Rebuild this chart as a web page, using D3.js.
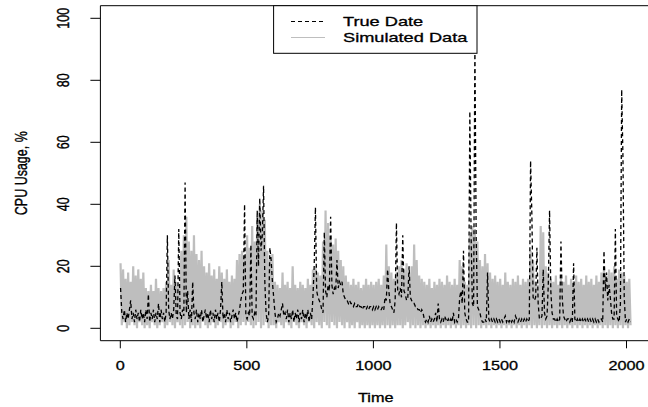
<!DOCTYPE html>
<html><head><meta charset="utf-8">
<script src="https://cdn.jsdelivr.net/npm/d3@7"></script>
<style>
body{margin:0;background:#fff}
svg{display:block}
text{font-family:"Liberation Sans",Arial,Helvetica,sans-serif;fill:#000;stroke:#000;stroke-width:0.3px}
</style>
</head><body>
<svg id="c" width="648" height="407"></svg>
<script>
const xTicks = [0, 500, 1000, 1500, 2000];
const yTicks = [0, 20, 40, 60, 80, 100];
const legendLabels = ["True Date", "Simulated Data"];
const xLabel = "Time";
const yLabel = "CPU Usage, %";
const timeStart = 1, timeStep = 5;

// True data (black dashed), one value every 5 time units
const trueData = [
 13,5,3,6,2,5,3,6,9,3,5,2,6,3,5,2,6,3,5,2,
 6,3,11,2,5,3,6,2,5,3,8,2,6,3,5,2,5,30,6,3,
 5,3,6,17,4,3,32,5,3,6,4,47,5,12,3,6,2,15,5,3,
 6,2,5,3,6,2,4,6,3,5,2,6,3,5,2,6,3,5,2,6,
 15,3,5,2,6,3,5,2,4,6,3,5,2,4,6,9,11,12,40,4,
 3,5,4,27,4,3,5,4,38,20,42,25,30,46,15,5,2,4,26,22,
 15,10,5,2,3,5,4,6,8,4,5,3,6,2,5,3,6,2,5,3,
 6,2,5,3,6,2,5,3,6,2,5,3,10,20,39,12,10,9,8,6,
 5,31,12,10,14,12,36,14,11,13,12,22,13,15,14,15,11,10,9,9,
 8,9,8,8,7,8,7,7,8,7,7,6,7,7,6,7,6,7,7,6,
 7,6,7,6,7,6,6,7,6,10,9,19,12,8,7,6,5,9,34,12,
 11,13,10,30,12,11,9,10,20,10,9,8,8,7,7,6,6,5,6,5,
 3,2,3,2,4,2,3,2,3,5,2,8,3,2,3,2,4,3,2,3,
 2,3,2,5,2,3,2,3,10,12,8,25,5,3,2,2,70,30,8,7,
 92,30,7,6,5,3,2,2,3,2,18,3,2,3,2,3,2,3,2,3,
 2,3,2,3,4,2,3,2,3,2,3,2,4,3,2,3,2,3,2,3,
 2,3,2,3,54,37,10,9,10,26,8,3,3,4,19,5,3,4,14,38,
 12,5,3,3,2,3,2,3,28,10,4,3,2,3,3,2,3,2,21,3,
 2,3,2,3,2,3,2,3,2,3,2,3,2,3,2,3,2,3,2,3,
 3,2,25,12,18,9,14,10,5,3,3,32,4,3,2,8,77,55,10,2,
 3,2,3,2
];

// Simulated data (gray), one value every 5 time units
const simData = [
 21,1,19,2,16,0,18,1,15,2,20,1,17,0,19,2,16,1,18,0,
 13,1,12,0,14,2,12,1,16,0,13,1,12,2,13,0,15,1,22,2,
 14,1,19,0,15,2,14,1,25,0,30,1,36,2,28,0,25,1,30,0,
 24,1,22,0,25,2,20,1,18,0,21,1,17,2,19,0,16,1,20,2,
 18,0,16,1,19,2,15,0,17,1,16,2,22,0,24,1,25,2,23,1,
 30,2,26,1,33,0,28,1,36,2,40,0,38,1,35,2,25,0,22,1,
 24,1,15,0,14,2,13,1,18,0,14,2,15,1,13,0,20,2,14,1,
 13,0,15,2,14,1,13,0,16,2,14,1,19,0,20,2,18,1,17,0,
 28,2,38,1,34,0,30,2,27,1,29,0,25,2,22,1,20,0,17,2,
 15,0,14,1,16,0,14,2,15,0,13,1,14,0,16,1,14,0,15,1,
 14,0,15,1,16,0,14,1,17,0,27,1,20,0,18,1,16,0,18,1,
 20,1,22,0,19,1,21,2,18,0,20,1,27,0,22,1,17,0,16,1,
 15,0,14,1,16,0,13,1,15,0,14,1,16,0,15,1,14,0,17,1,
 15,0,14,1,16,0,14,1,22,0,20,1,15,0,14,1,30,0,33,1,
 32,0,28,1,22,0,20,1,24,0,21,1,18,0,16,1,17,0,15,1,
 16,0,14,1,18,0,15,1,14,0,16,1,15,0,17,1,14,0,16,1,
 15,0,16,1,25,0,22,1,15,0,14,1,33,0,31,1,20,0,18,1,
 16,0,15,1,17,0,14,1,16,0,15,1,17,0,14,1,16,0,15,1,
 17,0,15,1,16,0,14,1,17,0,15,1,16,0,14,1,17,0,15,1,
 18,0,20,1,17,0,19,1,18,0,20,1,16,0,19,1,18,0,17,1,
 15,0,16,1
];

const svg = d3.select("#c");
const box = {left: 100.4, right: 651, top: 5.7, bottom: 340.7};
const x = d3.scaleLinear().domain([0, 2000]).range([120.3, 626.5]);
const y = d3.scaleLinear().domain([0, 100]).range([328.3, 18.3]);
const SX = 1.3, FS = 12.5;

svg.append("defs").append("clipPath").attr("id", "clip")
  .append("rect").attr("x", box.left).attr("y", box.top)
  .attr("width", box.right - box.left).attr("height", box.bottom - box.top);

const line = d3.line()
  .x((d, i) => x(timeStart + i * timeStep))
  .y(d => y(d));

const g = svg.append("g").attr("clip-path", "url(#clip)");
g.append("path").datum(simData).attr("d", line)
  .attr("fill", "none").attr("stroke", "#bebebe").attr("stroke-width", 2.2)
  .attr("stroke-linejoin", "miter").attr("stroke-miterlimit", 2);
g.append("path").datum(trueData).attr("d", line)
  .attr("fill", "none").attr("stroke", "#000").attr("stroke-width", 1.3)
  .attr("stroke-dasharray", "4,3");

// box
svg.append("path")
  .attr("d", `M${box.right},${box.top}H${box.left}V${box.bottom}H${box.right}`)
  .attr("fill", "none").attr("stroke", "#000").attr("stroke-width", 1);

// x axis
const xa = svg.append("g");
xa.selectAll("line").data(xTicks).enter().append("line")
  .attr("x1", d => x(d)).attr("x2", d => x(d))
  .attr("y1", box.bottom).attr("y2", box.bottom + 7.6)
  .attr("stroke", "#000");
xa.selectAll("text").data(xTicks).enter().append("text")
  .attr("transform", d => `translate(${x(d)},369.5) scale(${SX},1)`)
  .attr("text-anchor", "middle").attr("font-size", FS).text(d => d);

// y axis
const ya = svg.append("g");
ya.selectAll("line").data(yTicks).enter().append("line")
  .attr("x1", box.left - 10).attr("x2", box.left)
  .attr("y1", d => y(d)).attr("y2", d => y(d))
  .attr("stroke", "#000");
ya.selectAll("text").data(yTicks).enter().append("text")
  .attr("transform", d => `translate(69.4,${y(d)}) scale(${SX},1) rotate(-90)`)
  .attr("text-anchor", "middle").attr("font-size", FS).text(d => d);

// axis titles
svg.append("text")
  .attr("transform", `translate(${(box.left + box.right) / 2},401.5) scale(${SX},1)`)
  .attr("text-anchor", "middle").attr("font-size", FS).text(xLabel);
svg.append("text")
  .attr("transform", `translate(27.4,${(box.top + box.bottom) / 2}) scale(${SX},1) rotate(-90)`)
  .attr("text-anchor", "middle").attr("font-size", FS).text(yLabel);

// legend
const lg = svg.append("g");
lg.append("rect").attr("x", 273.6).attr("y", box.top)
  .attr("width", 477 - 273.6).attr("height", 53.3 - box.top)
  .attr("fill", "#fff").attr("stroke", "#000").attr("stroke-width", 1);
const rows = [21.5, 37.5];
lg.append("line").attr("x1", 291).attr("x2", 325).attr("y1", rows[0]).attr("y2", rows[0])
  .attr("stroke", "#000").attr("stroke-dasharray", "4,3");
lg.append("line").attr("x1", 291).attr("x2", 325).attr("y1", rows[1]).attr("y2", rows[1])
  .attr("stroke", "#bebebe");
lg.selectAll("text.l").data(legendLabels).enter().append("text").attr("class", "l")
  .attr("transform", (d, i) => `translate(343,${rows[i] + 4.6}) scale(1.4,1)`)
  .attr("font-size", 13).text(d => d);
</script>
</body></html>
